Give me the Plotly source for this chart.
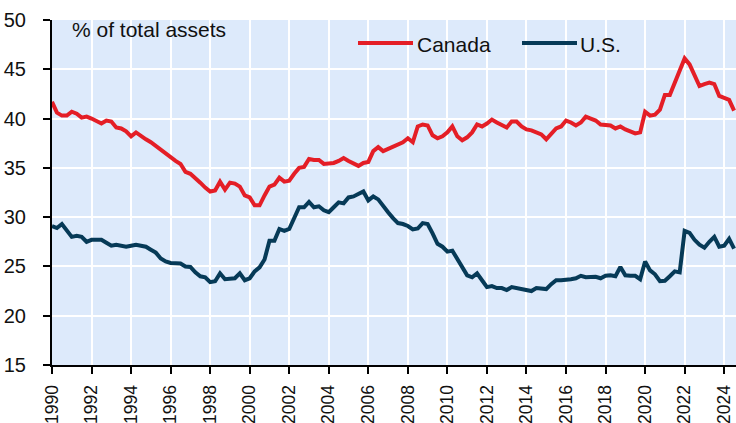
import plotly.graph_objects as go

# Quarterly observations, 1990Q1 .. 2024Q3 (% of total assets)
canada = [
    41.7, 40.6, 40.3, 40.3,   # 1990
    40.7, 40.5, 40.1, 40.2,   # 1991
    40.0, 39.8, 39.5, 39.8,   # 1992
    39.7, 39.1, 39.0, 38.7,   # 1993
    38.2, 38.6, 38.2, 37.9,   # 1994
    37.6, 37.2, 36.9, 36.4,   # 1995
    36.0, 35.7, 35.4, 34.6,   # 1996
    34.4, 34.0, 33.5, 33.0,   # 1997
    32.6, 32.7, 33.6, 32.8,   # 1998
    33.5, 33.4, 33.1, 32.2,   # 1999
    32.0, 31.2, 31.2, 32.2,   # 2000
    33.1, 33.3, 34.0, 33.6,   # 2001
    33.7, 34.4, 35.0, 35.1,   # 2002
    35.9, 35.8, 35.8, 35.4,   # 2003
    35.4, 35.5, 35.7, 36.0,   # 2004
    35.7, 35.4, 35.2, 35.5,   # 2005
    35.6, 36.7, 37.1, 36.7,   # 2006
    36.9, 37.1, 37.3, 37.6,   # 2007
    38.0, 37.6, 39.2, 39.4,   # 2008
    39.3, 38.3, 38.0, 38.2,   # 2009
    38.6, 39.2, 38.2, 37.8,   # 2010
    38.1, 38.6, 39.4, 39.2,   # 2011
    39.5, 39.9, 39.6, 39.3,   # 2012
    39.1, 39.7, 39.7, 39.2,   # 2013
    38.9, 38.8, 38.65, 38.4,  # 2014
    37.9, 38.5, 39.0, 39.2,   # 2015
    39.8, 39.6, 39.3, 39.6,   # 2016
    40.2, 40.0, 39.8, 39.4,   # 2017
    39.4, 39.3, 39.0, 39.2,   # 2018
    38.9, 38.65, 38.5, 38.6,  # 2019
    40.7, 40.3, 40.4, 40.9,   # 2020
    42.4, 42.4, 43.6, 44.8,   # 2021
    46.1, 45.5, 44.3, 43.3,   # 2022
    43.5, 43.65, 43.5, 42.3,  # 2023
    42.1, 41.9, 40.8,         # 2024
]

us = [
    29.1, 28.9, 29.3, 28.6,   # 1990
    28.0, 28.1, 28.0, 27.5,   # 1991
    27.7, 27.7, 27.7, 27.4,   # 1992
    27.1, 27.2, 27.1, 27.0,   # 1993
    27.1, 27.2, 27.1, 27.0,   # 1994
    26.7, 26.4, 25.8, 25.5,   # 1995
    25.35, 25.3, 25.3, 25.0,  # 1996
    24.95, 24.4, 24.0, 23.9,  # 1997
    23.4, 23.5, 24.3, 23.7,   # 1998
    23.8, 23.8, 24.3, 23.6,   # 1999
    23.8, 24.5, 24.9, 25.7,   # 2000
    27.6, 27.6, 28.8, 28.6,   # 2001
    28.8, 29.8, 31.0, 31.0,   # 2002
    31.55, 31.0, 31.1, 30.7,  # 2003
    30.5, 31.0, 31.5, 31.4,   # 2004
    32.0, 32.1, 32.4, 32.6,   # 2005
    31.7, 32.1, 31.8, 31.1,   # 2006
    30.5, 29.9, 29.4, 29.3,   # 2007
    29.1, 28.75, 28.85, 29.4, # 2008
    29.3, 28.35, 27.3, 27.0,  # 2009
    26.5, 26.6, 25.7, 24.8,   # 2010
    24.1, 23.9, 24.3, 23.6,   # 2011
    22.9, 23.0, 22.8, 22.8,   # 2012
    22.6, 22.9, 22.8, 22.7,   # 2013
    22.6, 22.5, 22.8, 22.7,   # 2014
    22.7, 23.2, 23.6, 23.6,   # 2015
    23.6, 23.7, 23.8, 24.05,  # 2016
    23.9, 23.9, 23.95, 23.8,  # 2017
    24.05, 24.1, 24.0, 24.95, # 2018
    24.1, 24.05, 24.05, 23.7, # 2019
    25.5, 24.6, 24.2, 23.5,   # 2020
    23.55, 24.0, 24.5, 24.4,  # 2021
    28.6, 28.4, 27.7, 27.2,   # 2022
    26.9, 27.5, 28.0, 27.0,   # 2023
    27.1, 27.8, 26.8,         # 2024
]

quarters = [1990 + i * 0.25 for i in range(len(canada))]

tick_years = list(range(1990, 2025, 2))
tick_labels = [str(y) for y in tick_years]
y_ticks = [15, 20, 25, 30, 35, 40, 45, 50]

RED = "#E41E26"
NAVY = "#063A57"
BG = "#DDEAFB"
FONT = "Arial, Liberation Sans, sans-serif"

fig = go.Figure()
fig.add_trace(go.Scatter(x=quarters, y=canada, mode="lines", name="Canada",
                         line=dict(color=RED, width=4), showlegend=False))
fig.add_trace(go.Scatter(x=quarters, y=us, mode="lines", name="U.S.",
                         line=dict(color=NAVY, width=4), showlegend=False))

W, H = 736, 423
L, R, T, B = 52, 0, 20, 58
pw, ph = W - L - R, H - T - B

def px(x):
    return (x - L) / pw

def py(y):
    return (H - B - y) / ph

# manual legend
shapes = [
    dict(type="line", xref="paper", yref="paper", x0=px(358), x1=px(413),
         y0=py(43), y1=py(43), line=dict(color=RED, width=4)),
    dict(type="line", xref="paper", yref="paper", x0=px(522), x1=px(577),
         y0=py(43), y1=py(43), line=dict(color=NAVY, width=4)),
]
annotations = [
    dict(text="% of total assets", xref="paper", yref="paper", x=px(70), y=py(29.5),
         xanchor="left", yanchor="middle", showarrow=False,
         font=dict(family=FONT, size=21, color="#111111")),
    dict(text="Canada", xref="paper", yref="paper", x=px(415), y=py(44),
         xanchor="left", yanchor="middle", showarrow=False,
         font=dict(family=FONT, size=21, color="#111111")),
    dict(text="U.S.", xref="paper", yref="paper", x=px(578), y=py(44),
         xanchor="left", yanchor="middle", showarrow=False,
         font=dict(family=FONT, size=21, color="#111111")),
]

fig.update_layout(
    width=W, height=H,
    margin=dict(l=L, r=R, t=T, b=B, pad=0, autoexpand=False),
    paper_bgcolor="white",
    plot_bgcolor=BG,
    font=dict(family=FONT, size=20, color="#111111"),
    shapes=shapes,
    annotations=annotations,
    showlegend=False,
)
fig.update_xaxes(
    range=[1990, 1990 + pw / 19.77],
    tickmode="array", tickvals=tick_years, ticktext=tick_labels,
    tickangle=-90, tickfont=dict(size=17.5),
    ticks="outside", ticklen=7, tickwidth=2, tickcolor="black",
    showline=True, linecolor="black", linewidth=2,
    showgrid=True, gridcolor="white", gridwidth=2,
    zeroline=False, ticklabelstandoff=4, automargin=False,
)
fig.update_yaxes(
    range=[15, 50],
    tickmode="array", tickvals=y_ticks,
    tickfont=dict(size=20),
    ticks="outside", ticklen=7, tickwidth=2, tickcolor="black",
    showline=True, linecolor="black", linewidth=2,
    showgrid=True, gridcolor="white", gridwidth=2,
    zeroline=False, ticklabelstandoff=13, automargin=False,
)

fig.write_html(
    "out.html",
    config={"displayModeBar": False},
    post_script="document.body.style.margin='0';document.body.style.overflow='hidden';",
)
